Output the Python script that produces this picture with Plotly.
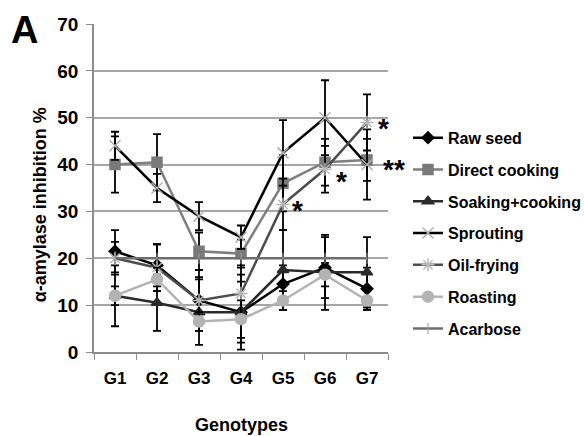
import plotly.graph_objects as go

genotypes = ["G1", "G2", "G3", "G4", "G5", "G6", "G7"]

raw_seed = [21.5, 18.5, 11, 8.5, 14.5, 18, 13.5]
raw_seed_err = [4.5, 4.5, 6.5, 6.5, 4, 6.5, 4.5]
direct_cooking = [40, 40.5, 21.5, 21, 36, 40.5, 41]
direct_cooking_err = [6, 6, 4, 3, 6, 5, 4.5]
soaking_cooking = [12, 10.5, 8.5, 8.5, 17.5, 17, 17]
soaking_cooking_err = [6.5, 6, 7, 8, 8.5, 8, 7.5]
sprouting = [44, 35, 29, 24.5, 42.5, 50, 40]
sprouting_err = [3, 3, 3, 2.5, 7, 8, 7.5]
oil_frying = [20, 18, 11, 12.5, 31.5, 39, 49]
oil_frying_err = [3.5, 5, 5, 6, 5.5, 5, 6]
roasting = [12, 15.5, 6.5, 7, 11, 16.5, 11]
roasting_err = [2, 2.5, 2, 4, 2, 2.5, 2]
acarbose = [20, 20, 20, 20, 20, 20, 20]

y_ticks = [0, 10, 20, 30, 40, 50, 60, 70]

# significance marks: (genotype, value, text)
sig_marks = [("G5", 31.0, "*"), ("G6", 37.2, "*"), ("G7", 48.5, "*"), ("G7", 39.8, "**")]
sig_shift = [14, 16, 16, 27]

FONT = "Liberation Sans, Arial, sans-serif"

series = [
    ("Raw seed", raw_seed, raw_seed_err, "#000000", "diamond", "#000000", 9),
    ("Direct cooking", direct_cooking, direct_cooking_err, "#7f7f7f", "square", "#7a7a7a", 10),
    ("Soaking+cooking", soaking_cooking, soaking_cooking_err, "#2a2a2a", "triangle-up", "#2a2a2a", 10),
    ("Sprouting", sprouting, sprouting_err, "#000000", "x-thin-open", "#b0b0b0", 11),
    ("Oil-frying", oil_frying, oil_frying_err, "#4d4d4d", "asterisk-open", "#b8b8b8", 11),
    ("Roasting", roasting, roasting_err, "#b3b3b3", "circle", "#b3b3b3", 11),
]

fig = go.Figure()
for i, (name, vals, err, lc, sym, mc, ms) in enumerate(series):
    fig.add_trace(go.Scatter(
        x=genotypes, y=vals, name=name, mode="lines+markers",
        line=dict(color=lc, width=2.5),
        marker=dict(symbol=sym, color=mc, size=ms, line=dict(color=mc, width=1.5)),
        error_y=dict(type="data", array=err, visible=True, color="#000000", thickness=1.8, width=4),
        legendgroup=f"g{i}",
    ))

fig.add_trace(go.Scatter(
    x=genotypes, y=acarbose, name="Acarbose", mode="lines+markers",
    line=dict(color="#6e6e6e", width=2.5),
    marker=dict(symbol="line-ns-open", color="#9a9a9a", size=8, line=dict(color="#9a9a9a", width=1)),
    legendgroup="g6",
))

for (g, v, t), s in zip(sig_marks, sig_shift):
    fig.add_annotation(x=g, y=v, text=t, showarrow=False, xref="x", yref="y",
                       xshift=s, yshift=-4, font=dict(family=FONT, size=28, color="#000000", weight="bold"))

fig.add_annotation(x=-0.184, y=0.45, xref="paper", yref="paper", text="α-amylase inhibition %",
                   textangle=-90, showarrow=False, xanchor="center", yanchor="middle",
                   font=dict(family=FONT, size=18, color="#000000", weight="bold"))
fig.add_annotation(x=0.5, y=-0.222, xref="paper", yref="paper", text="Genotypes",
                   showarrow=False, xanchor="center", yanchor="middle",
                   font=dict(family=FONT, size=18, color="#000000", weight="bold"))
fig.add_annotation(x=-0.238, y=0.982, xref="paper", yref="paper", text="A",
                   showarrow=False, xanchor="center", yanchor="middle",
                   font=dict(family=FONT, size=38, color="#000000", weight="bold"))

fig.update_layout(
    width=584, height=436,
    margin=dict(l=94, r=196, t=24, b=84, autoexpand=False),
    paper_bgcolor="white", plot_bgcolor="white",
    font=dict(family=FONT, color="#000000"),
    legend=dict(x=1.068, y=0.705, xanchor="left", yanchor="top",
                font=dict(family=FONT, size=16, color="#000000", weight="bold"),
                tracegroupgap=8, itemwidth=30, bgcolor="rgba(0,0,0,0)"),
    xaxis=dict(type="category", showgrid=False, showline=True, linecolor="#8c8c8c", linewidth=1.5,
               ticks="outside", tickson="boundaries", ticklen=6, tickcolor="#8c8c8c",
               tickfont=dict(family=FONT, size=17, color="#000000", weight="bold"), ticklabelstandoff=10,
               range=[-0.5, 6.5]),
    yaxis=dict(range=[0, 70], tickvals=y_ticks, showgrid=True, gridcolor="#a6a6a6", gridwidth=1.5,
               showline=True, linecolor="#8c8c8c", linewidth=1.5, ticks="outside", ticklen=6,
               tickcolor="#8c8c8c", tickfont=dict(family=FONT, size=19, color="#000000", weight="bold"),
               ticklabelstandoff=4, zeroline=False),
)

fig.write_html("out.html")
